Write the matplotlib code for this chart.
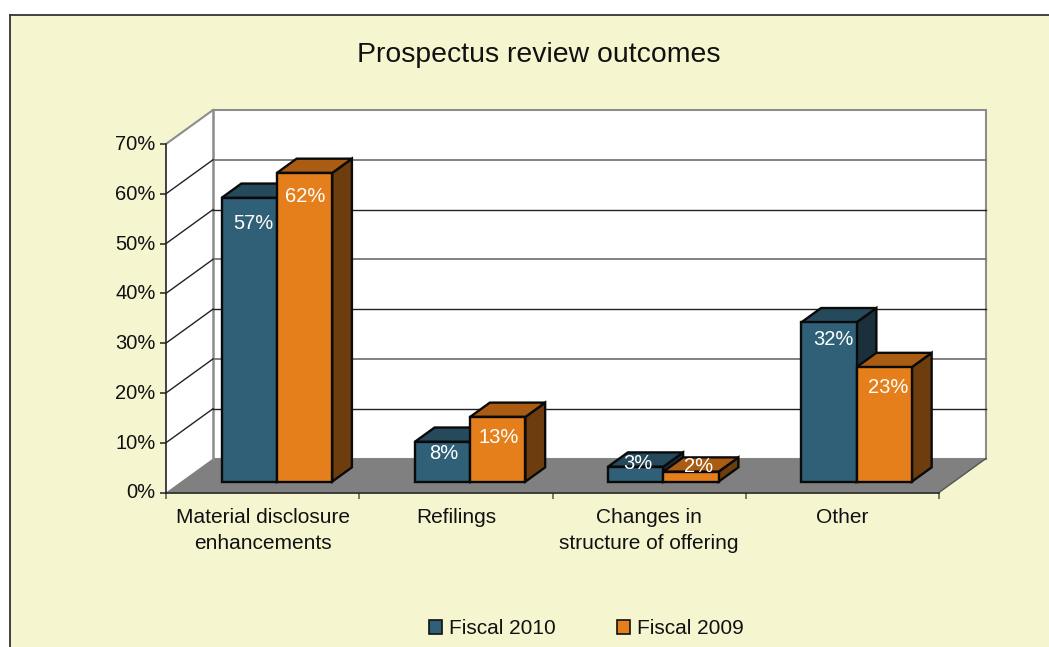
import matplotlib
matplotlib.use("Agg")
import matplotlib.pyplot as plt
from matplotlib.lines import Line2D
from matplotlib.patches import Patch, Polygon, Rectangle
from matplotlib.transforms import ScaledTranslation

plt.rcParams["font.family"] = ["Liberation Sans", "DejaVu Sans"]

categories = ["Material disclosure\nenhancements", "Refilings",
              "Changes in\nstructure of offering", "Other"]
fiscal_2010 = [57, 8, 3, 32]
fiscal_2009 = [62, 13, 2, 23]
y_ticks = [0, 10, 20, 30, 40, 50, 60, 70]

W, H = 1049, 647
X0, X1, Y0, Y1 = 166, 939, 492.5, 144     # front plane of the fake 3d box, px
DX = 47 / ((X1 - X0) / 4)                 # full depth, in category units
DY = 34 / ((Y0 - Y1) / 70)                # full depth, in percent units
D_FRONT, D_BACK = 0.32, 0.74              # where the bars sit inside the box
GAP, BAR_W = 0.21, 0.286

# colours: front, top, side
BLUE = ("#2f6078", "#254a5c", "#1a313c")
ORANGE = ("#e57f1c", "#ab5c13", "#6e3d0e")
# nudge of each white label from the bar's top centre, px
DY_2010 = [-26, -12, 3, -17]
DY_2009 = [-24, -21, 5, -20]
DX_2010 = [4, 1, 2, 4]
DX_2009 = [1, 1, 8, 4]


def proj(x, y, d):
    return (x + d * DX, y + d * DY)


def draw_bar(ax, x, val, cols, z):
    x1 = x + BAR_W
    f0, f1 = D_FRONT, D_BACK
    side = [proj(x1, 0, f0), proj(x1, 0, f1), proj(x1, val, f1), proj(x1, val, f0)]
    top = [proj(x, val, f0), proj(x1, val, f0), proj(x1, val, f1), proj(x, val, f1)]
    front = [proj(x, 0, f0), proj(x1, 0, f0), proj(x1, val, f0), proj(x, val, f0)]
    for pts, c in ((side, cols[2]), (top, cols[1]), (front, cols[0])):
        ax.add_patch(Polygon(pts, closed=True, fc=c, ec="#0a0a0a", lw=1.7,
                             joinstyle="miter", zorder=z, clip_on=False))


fig = plt.figure(figsize=(W / 100, H / 100), dpi=100, facecolor="white")
fig.add_artist(Rectangle((10 / W, 0), 1, 1 - 15 / H, transform=fig.transFigure,
                         fc="#f5f6d0", ec="none", zorder=-5))
fig.add_artist(Line2D([10 / W, 1], [1 - 15 / H] * 2, color="#333333", lw=1.3))
fig.add_artist(Line2D([10 / W] * 2, [0, 1 - 15 / H], color="#333333", lw=1.3))

ax = fig.add_axes([X0 / W, 1 - Y0 / H, (X1 - X0) / W, (Y0 - Y1) / H])
ax.set_xlim(0, 4)
ax.set_ylim(0, 70)
ax.patch.set_visible(False)
for s in ("top", "right"):
    ax.spines[s].set_visible(False)
for s in ("left", "bottom"):
    ax.spines[s].set_color("#222222")
    ax.spines[s].set_linewidth(1.2)

# walls and floor
ax.add_patch(Polygon([proj(0, 0, 1), proj(4, 0, 1), proj(4, 70, 1), proj(0, 70, 1)],
                     fc="white", ec="#8c8c8c", lw=1.5, zorder=1, clip_on=False))
ax.add_patch(Polygon([proj(0, 0, 0), proj(0, 0, 1), proj(0, 70, 1), proj(0, 70, 0)],
                     fc="white", ec="none", zorder=1, clip_on=False))
ax.add_patch(Polygon([proj(0, 0, 0), proj(4, 0, 0), proj(4, 0, 1), proj(0, 0, 1)],
                     fc="#808080", ec="none", zorder=2, clip_on=False))
ax.plot(*zip(proj(0, 70, 0), proj(0, 70, 1)), color="#8c8c8c", lw=1.5, zorder=2, clip_on=False)
ax.plot(*zip(proj(0, 0, 1), proj(0, 70, 1)), color="#8c8c8c", lw=1.8, zorder=2, clip_on=False)
ax.plot(*zip(proj(4, 0, 0), proj(4, 0, 1)), color="#555555", lw=1, zorder=2, clip_on=False)

# gridlines, the resampled original alternates grey and black
for v in y_ticks[1:-1]:
    dark = v % 20 != 0
    ax.plot(*zip(proj(0, v, 1), proj(4, v, 1)), color="#222222" if dark else "#777777",
            lw=1.0 if dark else 1.3, zorder=2, clip_on=False)
    ax.plot(*zip(proj(0, v, 0), proj(0, v, 1)), color="#222222", lw=1.0, zorder=2, clip_on=False)

for i in range(len(categories)):
    xa = i + GAP
    xb = xa + BAR_W
    draw_bar(ax, xa, fiscal_2010[i], BLUE, 3 + i)
    draw_bar(ax, xb, fiscal_2009[i], ORANGE, 3 + i)
    for x, val, dy, dx in ((xa, fiscal_2010[i], DY_2010[i], DX_2010[i]),
                           (xb, fiscal_2009[i], DY_2009[i], DX_2009[i])):
        ax.annotate(f"{val}%", proj(x + BAR_W / 2, val, D_FRONT), xytext=(dx * 0.72, dy * 0.72),
                    textcoords="offset points", ha="center", va="center", color="white",
                    fontsize=14.5, zorder=10, annotation_clip=False)

ax.set_yticks(y_ticks, [f"{v}%" for v in y_ticks], fontsize=14.5, color="#111111")
ax.set_xticks(range(5), [""] * 5)
ax.set_xticks([i + 0.5 for i in range(4)], categories, minor=True, fontsize=15,
              color="#111111", linespacing=1.5)
ax.tick_params(axis="y", length=4.5, width=1.1, color="#222222", pad=3)
ax.tick_params(axis="x", which="major", length=4.5, width=1.1, color="#555555")
ax.tick_params(axis="x", which="minor", length=0, pad=11)
for lab in ax.get_yticklabels():
    lab.set_transform(lab.get_transform() + ScaledTranslation(0, 1.5 / 100, fig.dpi_scale_trans))

fig.text(539 / W, 1 - 54.5 / H, "Prospectus review outcomes", ha="center", va="center",
         fontsize=20.4, color="#111111")

handles = [Patch(fc=BLUE[0], ec="#111111", lw=1.2, label="Fiscal 2010"),
           Patch(fc=ORANGE[0], ec="#111111", lw=1.2, label="Fiscal 2009")]
fig.legend(handles=handles, loc="center", bbox_to_anchor=(586.5 / W, 1 - 628.5 / H), ncol=2,
           frameon=False, fontsize=15, handlelength=0.6, handleheight=0.65,
           handletextpad=0.35, columnspacing=2.95, labelcolor="#111111", borderpad=0)

fig.savefig("out.png", dpi=100)
